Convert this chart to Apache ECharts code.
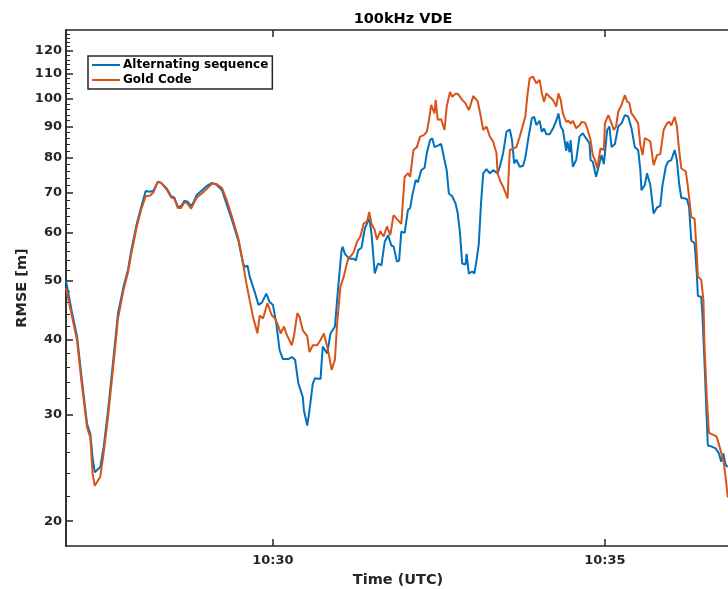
<!DOCTYPE html>
<html>
<head>
<meta charset="utf-8">
<script src="https://cdn.jsdelivr.net/npm/echarts@6/dist/echarts.min.js"></script>
<style>
html,body{margin:0;padding:0;background:#fff;}
#chart{width:728px;height:589px;}
</style>
</head>
<body>
<div id="chart"></div>
<script>
// time: seconds after 10:26:00 UTC
const tAlt = [53,58,63,67,72,75,77,79,84,87,91,96,100,105,109,112,117,121,125,129,132,136,139,144,148,151,154,157,160,163,166,168,171,176,180,185,189,194,198,203,209,213,215,217,219,224,227,230,234,237,240,243,246,249,254,257,260,263,267,268,271,273,276,278,283,285,289,292,296,299,302,303,305,309,313,315,317,320,323,327,329,332,335,338,341,344,347,349,352,354,356,359,362,364,366,369,371,374,377,379,382,384,386,389,392,395,397,399,402,405,407,409,411,414,415,417,420,422,424,426,428,430,433,436,439,443,445,448,451,454,456,458,460,463,466,468,471,474,476,478,481,483,485,487,490,493,496,498,500,502,505,506,508,509,511,514,517,520,523,526,527,529,532,535,537,539,542,544,546,549,552,555,558,561,564,567,570,572,573,576,578,581,584,587,590,592,595,597,600,603,605,607,609,614,616,618,621,623,624,627,628,630,632,633,636,640,643,645,647,649,651];
const rmseAlt = [50.0,44.7,40.4,34.7,29.0,27.9,25.5,24.1,24.6,26.5,30.5,37.4,44.2,48.9,52.1,56.2,62.2,66.3,70.4,70.2,70.5,72.9,72.6,71.1,69.0,68.6,66.3,66.4,67.8,67.6,66.4,67.3,69.3,70.6,71.7,72.6,72.1,70.6,67.1,63.0,58.0,53.4,52.7,53.0,50.8,47.6,45.6,46.0,47.6,46.1,45.6,42.5,38.4,37.1,37.1,37.4,37.0,33.8,32.1,30.5,28.8,30.5,33.8,34.5,34.4,38.9,37.9,40.9,42.0,48.9,56.2,56.9,55.4,54.4,54.4,54.0,56.2,56.7,61.0,63.4,60.0,51.4,53.4,53.0,58.0,59.5,57.2,57.0,53.8,54.0,60.3,60.0,65.5,66.0,69.3,73.4,72.8,76.2,76.9,81.3,85.5,86.0,83.2,83.7,84.2,79.2,76.2,69.7,69.0,67.1,64.6,60.0,53.4,53.2,55.4,51.4,51.8,51.4,54.1,57.5,67.1,75.3,76.5,75.3,76.2,75.3,77.2,81.3,88.2,89.0,85.5,78.2,79.3,77.2,77.5,79.8,86.6,92.9,93.4,90.5,92.0,88.2,89.3,87.4,87.4,89.3,92.0,94.6,90.0,88.8,82.0,85.0,81.6,85.5,77.2,79.2,86.6,87.7,86.0,84.5,79.2,78.7,74.3,78.2,80.7,78.0,88.8,90.0,83.2,84.2,90.0,91.1,94.0,93.5,89.4,83.2,82.3,76.2,70.6,72.0,75.3,72.0,64.6,66.1,66.5,72.0,77.2,78.7,79.2,82.3,79.2,72.5,68.6,68.3,66.3,58.3,57.7,51.4,47.2,47.0,44.2,36.5,29.4,26.7,26.6,26.4,25.9,25.1,25.9,24.8,24.6];

const tGold = [53,58,63,67,72,75,77,79,84,87,91,96,100,105,109,112,117,121,125,129,132,136,139,144,148,151,154,157,160,163,166,168,171,176,180,185,189,194,198,203,209,213,216,219,222,226,228,231,235,239,242,245,247,250,252,257,259,262,264,267,271,273,276,280,283,286,289,291,293,296,298,301,304,306,308,311,313,316,319,322,325,327,329,332,334,337,340,343,346,349,350,353,356,359,362,364,367,370,373,376,379,381,383,386,387,389,392,395,397,400,402,405,407,411,414,417,419,421,425,427,430,433,436,439,442,443,445,448,451,452,454,457,460,463,468,470,472,475,478,481,483,485,487,490,493,496,498,500,502,505,507,509,511,514,517,519,522,524,527,529,531,533,535,536,539,540,543,546,548,550,552,555,558,560,562,564,567,570,572,574,576,579,581,584,587,590,593,596,598,600,603,605,607,609,613,615,618,621,623,624,627,629,630,632,634,638,641,643,645,647,649,651];
const rmseGold = [48.6,44.0,39.8,34.0,28.6,27.5,24.0,22.9,23.7,25.9,29.8,36.5,43.3,48.3,51.6,55.4,61.5,65.6,69.0,69.2,70.0,72.9,72.6,70.8,68.7,68.3,66.0,66.0,67.5,67.0,65.8,66.9,68.6,69.8,70.9,72.4,72.3,71.2,68.2,63.8,58.5,53.4,49.5,46.4,43.6,40.9,43.8,43.3,45.9,43.8,43.3,42.0,40.9,42.0,40.9,39.1,40.5,44.2,43.6,41.4,40.5,38.1,39.1,39.1,39.9,40.9,38.9,37.4,35.6,37.0,42.5,48.9,50.8,52.7,54.4,55.1,55.8,58.0,59.2,62.2,62.7,65.0,62.2,60.6,58.5,60.4,59.2,61.5,59.5,64.2,64.2,63.0,62.1,74.3,75.3,74.3,82.3,83.2,86.6,87.0,88.2,92.3,97.7,94.6,99.6,92.3,92.5,88.8,97.1,102.7,100.8,102.0,102.0,99.6,98.3,95.8,98.3,101.1,99.0,95.2,88.8,90.0,86.6,84.9,81.3,75.3,73.4,71.5,69.3,68.4,82.3,82.7,83.2,86.6,93.4,101.5,108.2,108.8,106.1,107.5,102.1,98.9,102.1,100.8,99.6,97.1,102.1,99.6,94.6,91.6,92.0,91.0,92.0,89.4,90.4,91.6,91.3,89.4,85.5,80.7,79.2,76.7,80.7,82.8,82.3,91.1,94.0,91.1,88.8,90.0,95.2,97.7,101.5,99.0,98.5,94.6,93.0,91.1,83.9,80.7,86.1,85.5,85.0,77.7,80.7,81.0,88.8,91.1,91.6,90.4,93.4,90.0,82.3,76.7,75.9,71.5,63.8,63.3,55.4,50.8,50.2,46.4,38.9,32.1,28.0,27.8,27.6,26.8,26.0,25.3,23.7,21.9];

const xTickValues = [240, 540];
const xTickLabels = ['10:30', '10:35'];
const yTickValues = [20, 30, 40, 50, 60, 70, 80, 90, 100, 110, 120];
const yMinorTicks = [22,24,26,28,32,34,36,38,42,44,46,48,52,54,56,58,62,64,66,68,72,74,76,78,82,84,86,88,92,94,96,98,102,104,106,108,112,114,116,118,122,124,126,128];
const seriesNames = ['Alternating sequence', 'Gold Code'];
const seriesColors = ['#0072BD', '#D95319'];

const axisColor = '#262626';
const font = 'DejaVu Sans';
const zip = (a, b) => a.map((v, i) => [v, b[i]]);

const chart = echarts.init(document.getElementById('chart'), null, {renderer: 'canvas'});
const xCommon = {
  type: 'value', min: 53, max: 653,
  splitLine: {show: false},
  axisLine: {show: true, onZero: false, lineStyle: {color: axisColor, width: 1.5}},
  axisTick: {show: true, inside: true, length: 7, customValues: xTickValues, lineStyle: {color: axisColor, width: 1.5}}
};
const yCommon = {
  type: 'log', logBase: 10, min: 18.2, max: 130,
  splitLine: {show: false}, minorTick: {show: false},
  axisLine: {show: true, lineStyle: {color: axisColor, width: 1.5}}
};
chart.setOption({
  animation: false,
  backgroundColor: '#fff',
  title: {
    text: '100kHz VDE', left: 398, top: 7, textAlign: 'center',
    textStyle: {fontFamily: font, fontWeight: 'bold', fontSize: 14.5, color: '#000'}
  },
  grid: {left: 66, top: 30, width: 664, height: 516, containLabel: false, outerBoundsMode: 'none'},
  legend: {
    left: 88, top: 56, orient: 'vertical',
    data: seriesNames.map(n => ({name: n, icon: 'rect'})),
    itemWidth: 28, itemHeight: 2, itemGap: 3,
    padding: [3, 4, 3, 4],
    borderColor: axisColor, borderWidth: 1.5,
    textStyle: {fontFamily: font, fontWeight: 'bold', fontSize: 12, color: '#000', padding: [0, 0, 0, -2]}
  },
  xAxis: [
    Object.assign({}, xCommon, {
      position: 'bottom',
      name: 'Time (UTC)', nameLocation: 'middle', nameGap: 27,
      nameTextStyle: {fontFamily: font, fontWeight: 'bold', fontSize: 14.5, color: axisColor},
      axisLabel: {
        customValues: xTickValues, margin: 8,
        fontFamily: font, fontWeight: 'bold', fontSize: 13, color: axisColor,
        formatter: v => xTickLabels[xTickValues.indexOf(Math.round(v))] || ''
      }
    }),
    Object.assign({}, xCommon, {position: 'top', axisLabel: {show: false}})
  ],
  yAxis: [
    Object.assign({}, yCommon, {
      position: 'left',
      name: 'RMSE [m]', nameLocation: 'middle', nameGap: 36, nameRotate: 90, nameMoveOverlap: false,
      nameTextStyle: {fontFamily: font, fontWeight: 'bold', fontSize: 14.5, color: axisColor},
      axisTick: {show: true, inside: true, length: 7, customValues: yTickValues, lineStyle: {color: axisColor, width: 1.5}},
      axisLabel: {customValues: yTickValues, margin: 4, fontFamily: font, fontWeight: 'bold', fontSize: 13, color: axisColor}
    }),
    Object.assign({}, yCommon, {
      position: 'left', offset: 0,
      axisTick: {show: true, inside: true, length: 4, customValues: yMinorTicks, lineStyle: {color: axisColor, width: 1}},
      axisLabel: {show: false}
    })
  ],
  series: [
    {name: seriesNames[0], type: 'line', data: zip(tAlt, rmseAlt), symbol: 'none', showSymbol: false,
     lineStyle: {color: seriesColors[0], width: 2}, itemStyle: {color: seriesColors[0]}, clip: true, z: 2},
    {name: seriesNames[1], type: 'line', data: zip(tGold, rmseGold), symbol: 'none', showSymbol: false,
     lineStyle: {color: seriesColors[1], width: 2}, itemStyle: {color: seriesColors[1]}, clip: true, z: 3}
  ]
});
</script>
</body>
</html>
